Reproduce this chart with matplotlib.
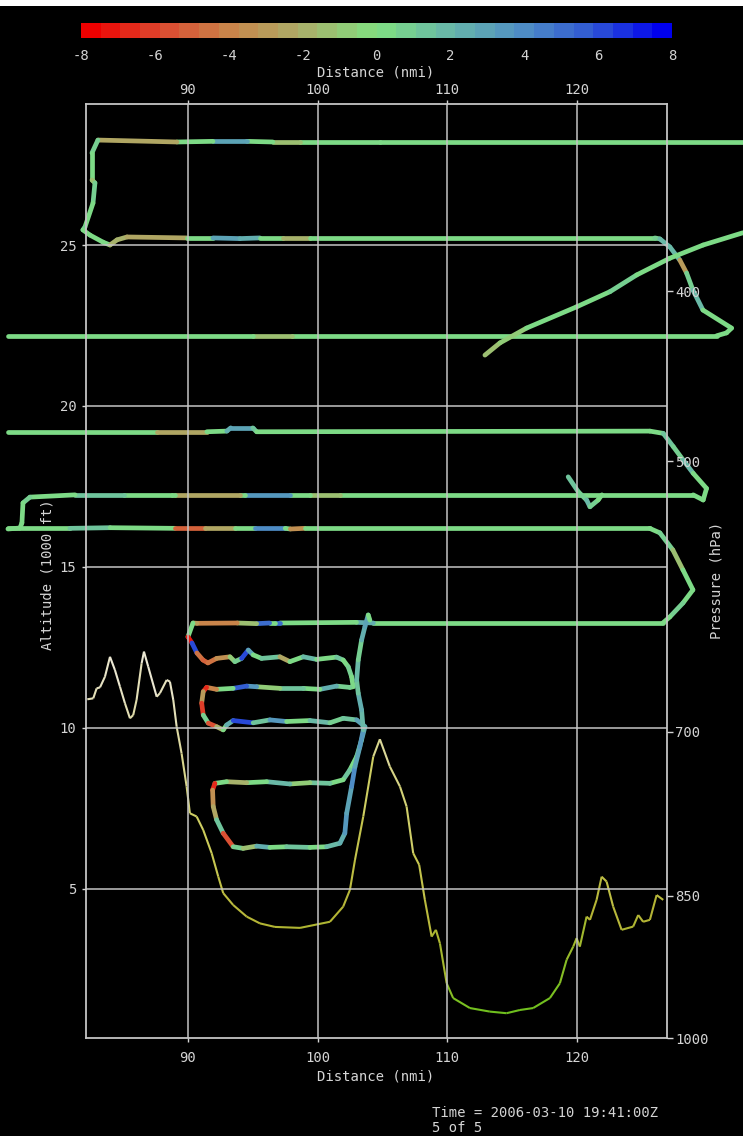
import numpy as np
import matplotlib
matplotlib.use("Agg")
import matplotlib.pyplot as plt
from matplotlib.collections import LineCollection
from matplotlib.colors import LinearSegmentedColormap, Normalize
from matplotlib.cm import ScalarMappable
from matplotlib.patches import Rectangle

# ---------------------------------------------------------
# Data: flight track (distance nmi, altitude kft, colour value per segment)
# ---------------------------------------------------------
# upper legs: 28.2 kft -> 25.2 kft -> 22.2 kft
upper_x = [133.0, 104.8, 98.64, 96.55, 94.55, 91.93, 89.15, 83.06, 82.6, 82.6,
           82.83, 82.68, 82.06, 81.9, 82.44, 83.45, 83.99, 84.53, 85.3, 89.92,
           91.93, 94.0, 95.55, 97.3, 99.4, 126.0, 126.39, 127.16, 127.93, 128.45,
           128.94, 129.71, 131.92, 131.53, 130.76, 98.0, 95.0, 76.1]
upper_alt = [28.2, 28.2, 28.2, 28.2, 28.22, 28.22, 28.2, 28.26, 27.86, 27.02,
             26.93, 26.30, 25.56, 25.47, 25.31, 25.09, 25.0, 25.16, 25.25, 25.22,
             25.22, 25.2, 25.22, 25.22, 25.22, 25.22, 25.19, 24.94, 24.53, 24.13,
             23.60, 22.98, 22.42, 22.27, 22.18, 22.18, 22.18, 22.18]
upper_val = [0.3, 0.5, -1.5, 0.2, 3.0, 0.4, -2.5, 0.8, 0.5, -1.2,
             0.6, 0.4, 0.8, 0.5, 0.3, 0.2, -2.0, -1.8, -2.5, 0.3,
             3.0, 2.2, 0.4, -1.8, 0.4, 0.8, 2.0, 1.8, -3.0, 1.0,
             1.6, 0.5, 0.3, 0.2, 0.3, -1.2, 0.3]

# climb-out line
climb_x = [112.90, 114.06, 116.11, 119.97, 122.54, 124.6, 127.16, 129.73, 132.79]
climb_alt = [21.58, 21.96, 22.42, 23.08, 23.55, 24.07, 24.59, 25.0, 25.38]
climb_val = [-1.5, -0.8, 0.5, 0.3, 0.6, 0.3, 0.4, 0.3]

# middle legs: 19.2 kft -> 17.24 kft -> turn down to 16.2 kft
mid_x = [76.1, 87.6, 91.46, 93.0, 93.3, 95.0, 95.3, 125.62, 126.65, 127.42,
         128.19, 128.96, 129.99, 129.73, 128.96, 101.7, 99.4, 97.9, 94.4, 94.0,
         89.0, 88.8, 85.1, 81.3, 77.82, 77.28, 77.2, 77.05, 76.12]
mid_alt = [19.2, 19.2, 19.2, 19.22, 19.32, 19.32, 19.2, 19.22, 19.15, 18.74,
           18.32, 17.91, 17.44, 17.08, 17.24, 17.24, 17.24, 17.24, 17.24, 17.24,
           17.24, 17.24, 17.24, 17.24, 17.17, 16.99, 16.37, 16.21, 16.18]
mid_val = [0.3, -2.2, 0.3, 2.5, 3.0, 1.5, 0.3, 0.5, 1.2, 0.6,
           2.0, 0.5, 0.3, 0.2, 0.3, -1.5, 0.3, 3.5, 0.5, -2.5,
           0.3, 0.4, 1.5, 0.4, 0.6, 0.5, 0.4, 0.5]

hook_x = [119.32, 120.09, 120.74, 121.0, 121.63, 121.92]
hook_alt = [17.80, 17.34, 17.08, 16.87, 17.08, 17.24]
hook_val = [1.5, 1.0, 2.0, 0.8, 0.5]

# 16.2 kft leg -> 13.26 kft leg
low_x = [76.1, 80.9, 84.0, 89.0, 91.3, 93.6, 95.2, 97.5, 97.9, 99.0,
         125.6, 126.39, 127.39, 128.17, 128.94, 128.17, 127.16, 126.62, 104.3, 103.0,
         97.1, 96.7, 96.3, 95.3, 93.8, 90.7, 90.39]
low_alt = [16.2, 16.2, 16.22, 16.2, 16.2, 16.2, 16.2, 16.2, 16.18, 16.2,
           16.2, 16.06, 15.53, 14.91, 14.29, 13.88, 13.45, 13.26, 13.26, 13.28,
           13.26, 13.26, 13.26, 13.24, 13.26, 13.25, 13.26]
low_val = [0.4, 1.5, 0.4, -5.0, -2.5, 0.3, 4.0, 0.5, -3.5, 0.3,
           0.4, 0.6, -1.5, 0.5, 0.3, 0.8, 0.4, 0.4, 2.2, 0.5,
           5.0, 0.4, 5.0, -1.5, -4.0, -3.0]

# stepped descent 12.1 -> 11.2 -> 10.2 -> 8.3 -> 6.3 kft, then climb back
step_x = [90.39, 90.0, 90.31, 90.69, 91.16, 91.54,
          92.21, 93.24, 93.62, 94.14, 94.65, 95.03, 95.68, 97.09, 97.86, 98.89,
          99.92, 101.46, 101.97, 102.36, 102.62, 102.74,
          102.49, 101.46, 100.18, 98.89, 97.09, 95.30, 94.53, 93.49, 92.21, 91.44,
          91.18, 91.06, 91.18, 91.57, 92.21, 92.72, 92.98,
          93.49, 95.03, 96.32, 97.61, 99.41, 100.95, 101.97, 103.01, 103.65, 103.39,
          103.01, 102.49, 101.97,
          100.95, 99.41, 97.86, 96.07, 94.53, 92.98, 92.08, 91.90, 91.95, 92.21,
          92.72, 93.49,
          94.26, 95.30, 96.32, 97.61, 99.41, 100.69, 101.72, 102.10, 102.24, 102.62,
          102.88, 103.26, 103.52, 103.39, 103.13, 103.01, 103.13, 103.39, 103.65, 103.90,
          104.03]
step_alt = [13.26, 12.83, 12.64, 12.33, 12.11, 12.02,
            12.16, 12.21, 12.06, 12.16, 12.42, 12.27, 12.16, 12.21, 12.06, 12.21,
            12.13, 12.20, 12.11, 11.90, 11.59, 11.28,
            11.26, 11.30, 11.20, 11.23, 11.23, 11.28, 11.30, 11.23, 11.20, 11.26,
            11.13, 10.77, 10.40, 10.15, 10.04, 9.94, 10.09,
            10.23, 10.16, 10.25, 10.20, 10.23, 10.16, 10.30, 10.25, 10.04, 9.63,
            9.11, 8.70, 8.39,
            8.28, 8.30, 8.26, 8.33, 8.30, 8.33, 8.28, 8.07, 7.56, 7.15,
            6.73, 6.31,
            6.26, 6.33, 6.29, 6.31, 6.29, 6.31, 6.42, 6.73, 7.35, 8.18,
            8.80, 9.42, 9.94, 10.56, 11.08, 11.49, 12.11, 12.73, 13.15, 13.51,
            13.35]
step_val = [0.5, -7.0, 6.0, -4.5, -5.0,
            -4.5, -3.5, -1.0, 1.0, 6.0, 3.0, 0.5, 1.5, -2.5, 0.3,
            2.0, 0.5, 1.5, 0.3, 1.0, 0.5,
            0.5, 0.8, 2.5, 0.3, 1.5, -1.0, 3.5, 5.5, 0.5, -4.0,
            -6.5, -3.0, -6.0, 1.0, -5.5, -2.0, 0.5,
            2.5, 6.0, 1.5, 3.5, 0.5, 2.0, 0.8, 1.5, 3.0, 2.5,
            1.0, 0.5, 1.2,
            0.3, 1.5, -1.0, 2.0, 0.4, -1.8, 0.5, -6.5, -3.5, -2.5,
            1.5, -5.5,
            1.0, -1.5, 2.5, 0.3, 1.5, 0.5, 1.8, 2.5, 3.5, 2.8,
            4.0, 3.0, 3.5, 2.0, 2.5, 1.5, 2.0, 1.0, 2.5, 3.0]

# terrain profile under the track
terr_x = [82.24, 82.70, 82.96, 83.22, 83.60, 83.99, 84.37, 84.76, 85.14, 85.53,
          85.78, 86.04, 86.43, 86.61, 86.94, 87.59, 87.84, 88.36, 88.61, 88.87,
          89.13, 89.51, 89.90, 90.15, 90.67, 91.18, 91.83, 92.34, 92.72, 93.49,
          94.53, 95.55, 96.71, 98.64, 100.95, 101.97, 102.49, 102.88, 103.52, 104.29,
          104.80, 105.57, 106.35, 106.86, 107.37, 107.83, 108.27, 108.79, 109.12, 109.43,
          109.95, 110.45, 111.74, 113.28, 114.57, 115.60, 116.62, 117.91, 118.68, 119.20,
          119.71, 119.97, 120.22, 120.74, 121.0, 121.51, 121.90, 122.28, 122.79, 123.44,
          124.33, 124.72, 125.10, 125.62, 126.14, 126.65]
terr_alt = [10.89, 10.92, 11.23, 11.26, 11.59, 12.21, 11.80, 11.28, 10.77, 10.30,
            10.40, 10.87, 12.01, 12.37, 11.90, 10.97, 11.08, 11.49, 11.44, 10.87,
            10.04, 9.21, 8.18, 7.35, 7.25, 6.83, 6.11, 5.38, 4.87, 4.50,
            4.14, 3.93, 3.82, 3.79, 3.98, 4.45, 4.97, 5.90, 7.25, 9.11,
            9.65, 8.80, 8.18, 7.56, 6.11, 5.75, 4.66, 3.52, 3.73, 3.31,
            2.07, 1.61, 1.30, 1.19, 1.14, 1.24, 1.30, 1.61, 2.07, 2.80,
            3.21, 3.47, 3.21, 4.14, 4.04, 4.66, 5.38, 5.23, 4.45, 3.73,
            3.83, 4.19, 3.98, 4.04, 4.81, 4.66]

dist_ticks = [90, 100, 110, 120]
alt_ticks = [5, 10, 15, 20, 25]
pres_ticks = [400, 500, 700, 850, 1000]
cbar_ticks = [-8, -6, -4, -2, 0, 2, 4, 6, 8]

track_hex = ['#ee0000', '#dc4a30', '#c8884c', '#a8b06a', '#80e080',
             '#68b8a8', '#5090c4', '#3058d4', '#0000ee']
terr_levels = [0, 1.5, 4, 7, 10, 12]
terr_hex = ['#50b818', '#78c020', '#b4b434', '#cccc5c', '#dcd8a0', '#ece8d4']


def pressure_alt(p):
    # standard atmosphere pressure altitude in 1000 ft
    return 145366.45 * (1 - (np.asarray(p) / 1013.25) ** 0.190284) / 1000.0


def track_segments(x, y):
    pts = np.column_stack([x, y]).reshape(-1, 1, 2)
    return np.concatenate([pts[:-1], pts[1:]], axis=1)


# ---------------------------------------------------------
# Figure setup
# ---------------------------------------------------------
plt.rcParams['font.family'] = ['DejaVu Sans Mono']
plt.rcParams['axes.unicode_minus'] = False
fg = '#d4d4d4'

fig = plt.figure(figsize=(7.43, 11.36), dpi=100, facecolor='black')
fig.add_artist(Rectangle((0, 1 - 6 / 1136), 1, 6 / 1136, transform=fig.transFigure,
                         facecolor='white', edgecolor='none'))

ax = fig.add_axes([86 / 743, 98 / 1136, 581 / 743, 934 / 1136], facecolor='black')
ax.set_xlim(82.14, 126.94)
ax.set_ylim(0.37, 29.38)

cmap = LinearSegmentedColormap.from_list('vv', track_hex, N=30)
norm = Normalize(-8, 8)
tcmap = LinearSegmentedColormap.from_list(
    'terr', list(zip(np.array(terr_levels) / 12.0, terr_hex)))
tnorm = Normalize(0, 12)

# terrain
lc = LineCollection(track_segments(terr_x, terr_alt), cmap=tcmap, norm=tnorm,
                    linewidths=1.5, zorder=1.5)
lc.set_array(np.array(terr_alt[:-1]))
ax.add_collection(lc)

# flight track pieces
for x, y, v in [(upper_x, upper_alt, upper_val), (climb_x, climb_alt, climb_val),
                (mid_x, mid_alt, mid_val), (hook_x, hook_alt, hook_val),
                (low_x, low_alt, low_val), (step_x, step_alt, step_val)]:
    lc = LineCollection(track_segments(x, y), cmap=cmap, norm=norm,
                        linewidths=3.4, capstyle='round', joinstyle='round',
                        clip_on=False, zorder=2)
    lc.set_array(np.array(v))
    ax.add_collection(lc)

# ---------------------------------------------------------
# Axes, grid and labels
# ---------------------------------------------------------
ax.set_axisbelow(False)
ax.grid(True, color='#c4c4c4', linewidth=1.3, alpha=0.85)
for s in ax.spines.values():
    s.set_color('#c4c4c4')
    s.set_linewidth(1.3)

ax.set_xticks(dist_ticks)
ax.set_yticks(alt_ticks)
ax.tick_params(colors=fg, labelsize=10, length=3, width=1, direction='out')
ax.tick_params(axis='x', pad=6)
ax.tick_params(axis='y', pad=4)

# top distance axis (same scale)
axt = ax.secondary_xaxis('top')
axt.set_xticks(dist_ticks)
axt.tick_params(colors=fg, labelsize=10, length=3, width=1, pad=2)
axt.spines['top'].set_visible(False)

ax2 = ax.twinx()
ax2.set_ylim(ax.get_ylim())
ax2.set_yticks(pressure_alt(pres_ticks))
ax2.set_yticklabels([str(p) for p in pres_ticks])
ax2.tick_params(colors=fg, labelsize=10, length=4, width=1, pad=2)
for s in ax2.spines.values():
    s.set_visible(False)

fig.text(376 / 743, 1 - 1076 / 1136, 'Distance (nmi)', color=fg, fontsize=10,
         ha='center', va='center')
fig.text(376 / 743, 1 - 73 / 1136, 'Distance (nmi)', color=fg, fontsize=10,
         ha='center', va='center')
fig.text(48 / 743, 1 - 575 / 1136, 'Altitude (1000 ft)', color=fg, fontsize=10,
         ha='center', va='center', rotation=90)
fig.text(717 / 743, 1 - 580 / 1136, 'Pressure (hPa)', color=fg, fontsize=10,
         ha='center', va='center', rotation=90)
fig.text(432 / 743, 1 - 1113 / 1136, 'Time = 2006-03-10 19:41:00Z', color=fg,
         fontsize=10, ha='left', va='center')
fig.text(432 / 743, 1 - 1128 / 1136, '5 of 5', color=fg, fontsize=10,
         ha='left', va='center')

# ---------------------------------------------------------
# Colour bar
# ---------------------------------------------------------
cax = fig.add_axes([81 / 743, 1 - 38 / 1136, 591 / 743, 15 / 1136])
cb = fig.colorbar(ScalarMappable(norm=norm, cmap=cmap), cax=cax,
                  orientation='horizontal', ticks=cbar_ticks)
cb.outline.set_visible(False)
cax.tick_params(colors=fg, labelsize=10, length=0, pad=8)

fig.savefig('out.png', dpi=100, facecolor='black')
